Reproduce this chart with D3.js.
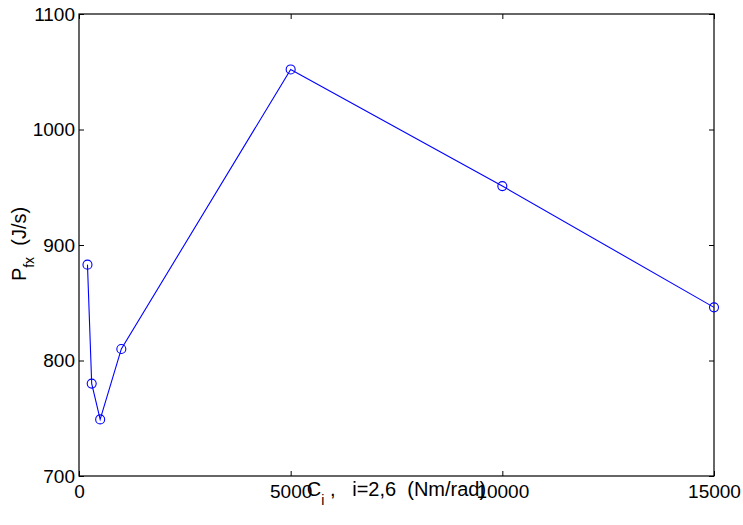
<!DOCTYPE html>
<html><head><meta charset="utf-8">
<script src="https://cdn.jsdelivr.net/npm/d3@7"></script>
<style>
body{margin:0;background:#fff;}
text{font-family:"Liberation Sans",Arial,sans-serif;white-space:pre;}
</style></head>
<body><svg id="c" width="743" height="525"></svg>
<script>
const xValues = [200, 300, 500, 1000, 5000, 10000, 15000];
const yValues = [883, 780, 749, 810, 1052, 951, 846];
const xTicks = [0, 5000, 10000, 15000];
const yTicks = [700, 800, 900, 1000, 1100];

const svg = d3.select("#c");
const L = 79, R = 714, T = 14, B = 476;
const x = d3.scaleLinear().domain([0, 15000]).range([L, R]);
const y = d3.scaleLinear().domain([700, 1100]).range([B, T]);

svg.append("rect").attr("width", 743).attr("height", 525).attr("fill", "#fff");

function styleAxis(g, labels) {
  g.select(".domain").remove();
  g.selectAll(".tick line").attr("stroke", "#000");
  g.selectAll("text").attr("font-size", 19).attr("fill", "#000")
    .attr("font-family", '"Liberation Sans",Arial,sans-serif');
  if (!labels) g.selectAll("text").remove();
}
svg.append("g").attr("transform", `translate(0,${B})`)
  .call(d3.axisBottom(x).tickValues(xTicks).tickSizeInner(-5).tickSizeOuter(0).tickPadding(9).tickFormat(d3.format("d")))
  .call(g => styleAxis(g, true));
svg.append("g").attr("transform", `translate(0,${T})`)
  .call(d3.axisTop(x).tickValues(xTicks).tickSizeInner(-5).tickSizeOuter(0))
  .call(g => styleAxis(g, false));
svg.append("g").attr("transform", `translate(${L},0)`)
  .call(d3.axisLeft(y).tickValues(yTicks).tickSizeInner(-5).tickSizeOuter(0).tickPadding(4).tickFormat(d3.format("d")))
  .call(g => styleAxis(g, true));
svg.append("g").attr("transform", `translate(${R},0)`)
  .call(d3.axisRight(y).tickValues(yTicks).tickSizeInner(-5).tickSizeOuter(0))
  .call(g => styleAxis(g, false));

svg.append("rect").attr("x", L).attr("y", T).attr("width", R - L).attr("height", B - T)
  .attr("fill", "none").attr("stroke", "#000").attr("stroke-width", 1.2);

const pts = xValues.map((v, i) => [v, yValues[i]]);
svg.append("path").datum(pts)
  .attr("d", d3.line().x(d => x(d[0])).y(d => y(d[1])))
  .attr("fill", "none").attr("stroke", "#0000ff").attr("stroke-width", 1.1);
svg.selectAll("circle.m").data(pts).enter().append("circle")
  .attr("cx", d => x(d[0])).attr("cy", d => y(d[1])).attr("r", 4.5)
  .attr("fill", "none").attr("stroke", "#0000ff").attr("stroke-width", 1.1);

// x label
const xl = svg.append("text").attr("x", (L + R) / 2).attr("y", 496)
  .attr("text-anchor", "middle").attr("font-size", 20).attr("fill", "#000");
xl.append("tspan").text("C");
xl.append("tspan").attr("font-size", 14).attr("dy", 9).text("i");
xl.append("tspan").attr("dy", -9).text(" ,   i=2,6  (Nm/rad)");

// y label
const yl = svg.append("text").attr("transform", "translate(26,244) rotate(-90)")
  .attr("text-anchor", "middle").attr("font-size", 20).attr("fill", "#000");
yl.append("tspan").text("P");
yl.append("tspan").attr("font-size", 14).attr("dy", 8).text("fx");
yl.append("tspan").attr("dy", -8).text("  (J/s)");
</script></body></html>
